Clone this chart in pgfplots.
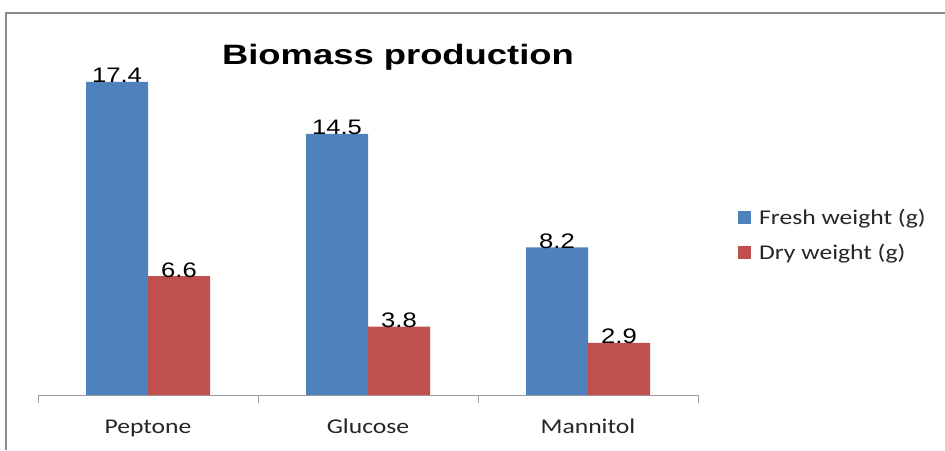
\documentclass[border=0pt]{standalone}
\usepackage{fontspec}
\usepackage{pgfplots}
\pgfplotsset{compat=1.18}
\newfontfamily\calib{Carlito}[FakeStretch=1.22]
\newfontfamily\arialf{Liberation Sans}[FakeStretch=1.22]
\newfontfamily\titlef{Liberation Sans}[FakeStretch=1.3]
\definecolor{fresh}{HTML}{4F81BD}
\definecolor{dry}{HTML}{C0504D}
\definecolor{frame}{HTML}{8C8C8C}
\definecolor{axgray}{HTML}{A0A0A0}
\begin{document}
\begin{tikzpicture}[x=1pt,y=1pt]
\useasboundingbox (0,0) rectangle (945,450);
\fill[white] (0,0) rectangle (945,450);
\draw[frame, line width=2pt] (6,0) -- (6,437) -- (945,437);
\begin{axis}[
  at={(148pt,55pt)}, anchor=origin,
  scale only axis, width=660pt, height=360pt,
  xmin=-0.5, xmax=2.5, ymin=0, ymax=20,
  ybar=0pt, bar width=62pt,
  axis y line=none, axis x line=bottom,
  x axis line style={-, axgray, line width=1pt},
  xtick={0,1,2}, xticklabels={Peptone,Glucose,Mannitol},
  major x tick style={draw=none},
  minor xtick={-0.5,0.5,1.5,2.5},
  minor x tick style={axgray, line width=1pt},
  minor tick length=8pt, tick align=outside,
  xticklabel style={font=\calib\fontsize{21}{25}\selectfont, text=black!85, anchor=base, yshift=-34pt},
  nodes near coords, point meta=explicit symbolic,
  every node near coord/.append style={font=\arialf\fontsize{21}{25}\selectfont, text=black, anchor=base, inner sep=0pt, yshift=-1pt},
  legend style={at={(1.056,0.444)}, anchor=west, draw=none, fill=none,
    font=\calib\fontsize{21}{25}\selectfont, text=black!85, row sep=14pt,
    /tikz/every odd column/.append style={column sep=6pt}},
  legend cell align=left,
  legend image code/.code={\fill[#1] (0pt,-6.5pt) rectangle (13pt,6.5pt);},
]
\addplot[fill=fresh, draw=none] coordinates {(0,17.4) [17.4] (1,14.5) [14.5] (2,8.2) [8.2]};
\addplot[fill=dry, draw=none] coordinates {(0,6.6) [6.6] (1,3.8) [3.8] (2,2.9) [2.9]};
\legend{Fresh weight (g), Dry weight (g)}
\end{axis}
\node[font=\titlef\bfseries\fontsize{28}{32}\selectfont, anchor=base] at (398,385) {Biomass production};
\end{tikzpicture}
\end{document}
